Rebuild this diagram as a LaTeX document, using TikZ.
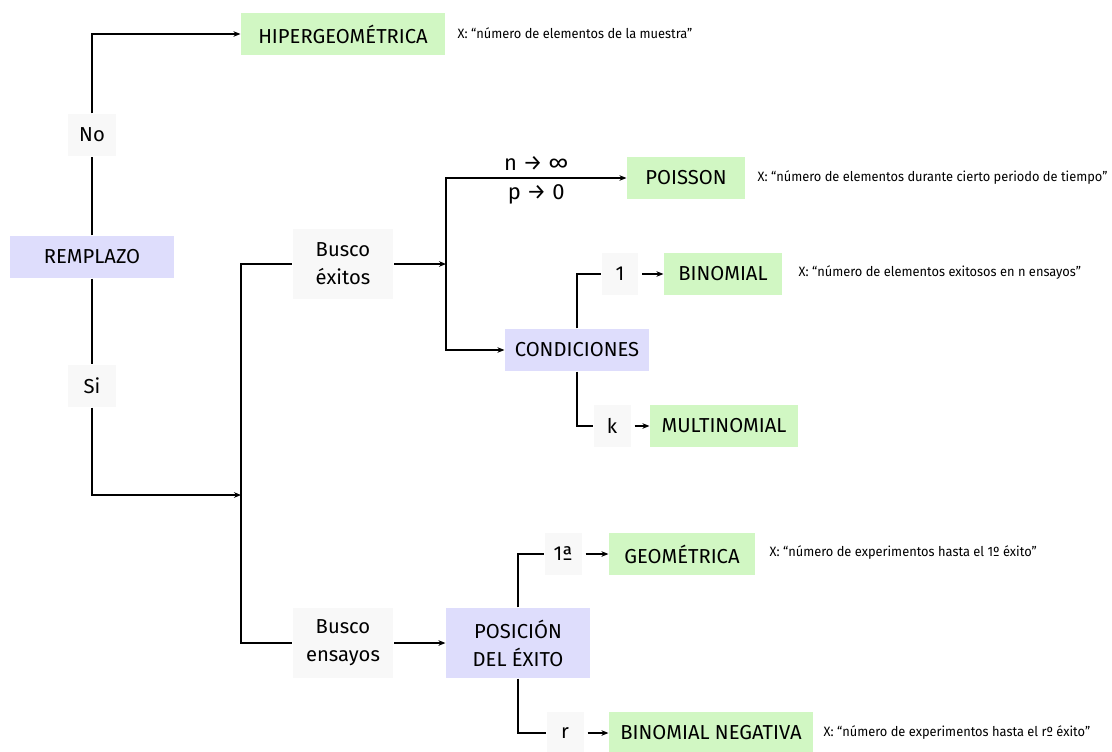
\documentclass[tikz,border=0pt]{standalone}
\usepackage{fontspec}
\setmainfont{Fira Sans}
\newfontfamily\notefont[FakeStretch=0.95]{Fira Sans}
\usetikzlibrary{arrows.meta}
\definecolor{distgreen}{HTML}{D1F7C3}
\definecolor{ctrlblue}{HTML}{DEDDFC}
\definecolor{condgray}{HTML}{F8F8F8}

\begin{document}
\begin{tikzpicture}[x=0.02cm,y=-0.02cm,line width=0.7pt,
        >={Stealth[length=4pt,width=3.2pt]},
        box/.style={inner sep=0pt,minimum height=0.84cm,align=center,
            font=\fontsize{11.5}{16}\selectfont},
        dist/.style={box,fill=distgreen},
        ctrl/.style={box,fill=ctrlblue},
        cond/.style={box,fill=condgray},
        limit/.style={inner sep=0pt,font=\fontsize{12.5}{15}\selectfont},
        note/.style={anchor=west,inner sep=0pt,font=\notefont\fontsize{7.7}{9}\selectfont}]
        \useasboundingbox (0,0) rectangle (1112,751);

        % left column
        \node[dist,minimum width=4.08cm] (hiper) at (343,34) {HIPERGEOMÉTRICA};
        \node[note] (nhiper) at (457,33) {X: “número de elementos de la muestra”};
        \node[cond,minimum width=0.98cm] (no) at (92,135) {No};
        \node[ctrl,minimum width=3.3cm] (remplazo) at (92,257) {REMPLAZO};
        \node[cond,minimum width=0.98cm] (si) at (92,386) {Si};
        \coordinate (join) at (241,495);

        % busco
        \node[cond,minimum width=2.02cm,minimum height=1.4cm] (exitos) at (343,264) {Busco\\éxitos};
        \node[cond,minimum width=2.02cm,minimum height=1.4cm] (ensayos) at (343,643) {Busco\\ensayos};
        \coordinate (fork) at (446,264);

        % exitos
        \node[dist,minimum width=2.36cm] (poisson) at (686,178) {POISSON};
        \node[note] (npoisson) at (757,178) {X: “número de elementos durante cierto periodo de tiempo”};
        \node[ctrl,minimum width=2.88cm] (condic) at (577,350) {CONDICIONES};
        \node[cond,minimum width=0.72cm] (uno) at (620,274) {1};
        \node[dist,minimum width=2.36cm] (binom) at (723,274) {BINOMIAL};
        \node[note] (nbinom) at (798,273) {X: “número de elementos exitosos en n ensayos”};
        \node[cond,minimum width=0.74cm] (k) at (612,426) {k};
        \node[dist,minimum width=2.96cm] (multi) at (724,426) {MULTINOMIAL};

        % ensayos
        \node[ctrl,minimum width=2.88cm,minimum height=1.4cm] (posicion) at (518,643) {POSICIÓN\\DEL ÉXITO};
        \node[cond,minimum width=0.74cm] (primera) at (563,554) {1ª};
        \node[dist,minimum width=2.92cm] (geom) at (682,554) {GEOMÉTRICA};
        \node[note] (ngeom) at (769,553) {X: “número de experimentos hasta el 1º éxito”};
        \node[cond,minimum width=0.74cm] (r) at (565,733) {r};
        \node[dist,minimum width=4.08cm] (negbin) at (711,733) {BINOMIAL NEGATIVA};
        \node[note] (nnegbin) at (823,733) {X: “número de experimentos hasta el rº éxito”};

        \draw (remplazo) -- (no);
        \draw[->] (no) |- (hiper);
        \draw (remplazo) -- (si);
        \draw[->] (si) |- (join);
        \draw (exitos.west) -| (join) |- (ensayos.west);
        \draw[->] (exitos.east) -- (fork);
        \draw[->] (fork) |- node[limit,pos=0.75,above=4pt] {n → ∞} node[limit,pos=0.75,below=3.5pt] {p → 0} (poisson.west);
        \draw[->] (fork) |- (condic.west);
        \draw (condic.north) |- (uno.west);
        \draw[->,shorten <=2pt] (uno) -- (binom);
        \draw (condic.south) |- (k.west);
        \draw[->,shorten <=2pt] (k) -- (multi);
        \draw[->] (ensayos) -- (posicion);
        \draw (posicion.north) |- (primera.west);
        \draw[->,shorten <=2pt] (primera) -- (geom);
        \draw (posicion.south) |- (r.west);
        \draw[->,shorten <=2pt] (r) -- (negbin);
    \end{tikzpicture}
\end{document}
